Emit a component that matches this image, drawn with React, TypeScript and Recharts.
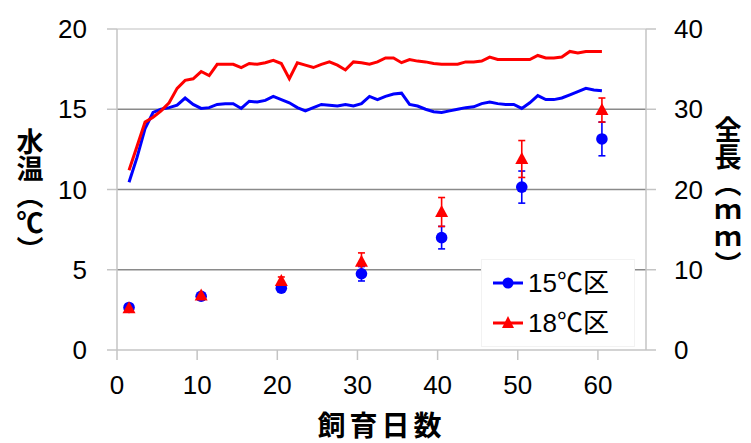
import { ComposedChart, Line, Scatter, XAxis, YAxis, ReferenceLine, ErrorBar, Legend } from 'recharts'

// 飼育日数 (daily water temperature)
const DAYS = [
  1.5, 2.5, 3.5, 4.5, 5.5, 6.5, 7.5, 8.5, 9.5, 10.5,
  11.5, 12.5, 13.5, 14.5, 15.5, 16.5, 17.5, 18.5, 19.5, 20.5,
  21.5, 22.5, 23.5, 24.5, 25.5, 26.5, 27.5, 28.5, 29.5, 30.5,
  31.5, 32.5, 33.5, 34.5, 35.5, 36.5, 37.5, 38.5, 39.5, 40.5,
  41.5, 42.5, 43.5, 44.5, 45.5, 46.5, 47.5, 48.5, 49.5, 50.5,
  51.5, 52.5, 53.5, 54.5, 55.5, 56.5, 57.5, 58.5, 59.5, 60.5,
]

const TEMP_15 = [
  10.45, 12.0, 13.8, 14.8, 15.0, 15.1, 15.25, 15.7, 15.3, 15.05,
  15.1, 15.3, 15.35, 15.35, 15.05, 15.5, 15.45, 15.55, 15.8, 15.6,
  15.4, 15.1, 14.9, 15.1, 15.3, 15.25, 15.2, 15.3, 15.2, 15.35,
  15.8, 15.6, 15.8, 15.95, 16.0, 15.3, 15.2, 15.0, 14.85, 14.8,
  14.9, 15.0, 15.1, 15.15, 15.35, 15.45, 15.35, 15.3, 15.3, 15.05,
  15.4, 15.85, 15.6, 15.6, 15.7, 15.9, 16.1, 16.3, 16.2, 16.15,
]

const TEMP_18 = [
  11.2, 12.7, 14.2, 14.5, 14.9, 15.4, 16.3, 16.8, 16.9, 17.35,
  17.1, 17.8, 17.8, 17.8, 17.6, 17.85, 17.8, 17.9, 18.05, 17.85,
  16.9, 17.9, 17.75, 17.6, 17.8, 17.95, 17.75, 17.45, 17.95, 17.9,
  17.8, 17.95, 18.2, 18.2, 17.9, 18.1, 18.0, 17.95, 17.85, 17.8,
  17.8, 17.8, 17.95, 17.95, 18.0, 18.25, 18.1, 18.1, 18.1, 18.1,
  18.1, 18.35, 18.2, 18.2, 18.25, 18.6, 18.5, 18.6, 18.6, 18.6,
]

// 全長 (mm) with error
const LEN_DAYS = [1.5, 10.5, 20.5, 30.5, 40.5, 50.5, 60.5]
const LEN_15 = [5.3, 6.7, 7.7, 9.5, 14.0, 20.3, 26.3]
const ERR_15 = [0.3, 0.3, 0.4, 0.9, 1.4, 2.0, 2.1]
const LEN_18 = [5.2, 6.8, 8.6, 11.0, 17.2, 23.8, 29.9]
const ERR_18 = [0.3, 0.3, 0.5, 1.1, 1.8, 2.3, 1.5]

const X_TICKS = [0, 10, 20, 30, 40, 50, 60]
const TEMP_TICKS = [0, 5, 10, 15, 20]
const LEN_TICKS = [0, 10, 20, 30, 40]
const GRID_LINES = [5, 10, 15]

const BLUE = '#0000ff'
const RED = '#ff0000'
const AXIS_GRAY = '#c4c4c4'
const NUM_FONT = '"Liberation Sans", Arial, "Noto Sans CJK JP", sans-serif'
const JP_FONT = '"Noto Sans CJK JP", "Liberation Sans", sans-serif'

const LEGEND_ITEMS = [
  { name: '15℃区', color: BLUE, shape: 'circle' },
  { name: '18℃区', color: RED, shape: 'triangle' },
]

const temp15 = DAYS.map((d, i) => ({ day: d, temp: TEMP_15[i] }))
const temp18 = DAYS.map((d, i) => ({ day: d, temp: TEMP_18[i] }))
const len15 = LEN_DAYS.map((d, i) => ({ day: d, len: LEN_15[i], err: ERR_15[i] }))
const len18 = LEN_DAYS.map((d, i) => ({ day: d, len: LEN_18[i], err: ERR_18[i] }))

const tickStyle = { fill: '#000', fontSize: 26, fontFamily: NUM_FONT }

const Dot = (p: any) => <circle cx={p.cx} cy={p.cy} r={5.8} fill={BLUE} />
const Tri = (p: any) => (
  <polygon
    points={`${p.cx},${p.cy - 7} ${p.cx + 6.5},${p.cy + 5} ${p.cx - 6.5},${p.cy + 5}`}
    fill={RED}
  />
)

const LegendBox = () => (
  <div
    style={{
      background: '#fff',
      border: '1px solid #f2f2f2',
      width: 154,
      boxSizing: 'border-box',
      padding: '3px 0 3px 11px',
    }}
  >
    {LEGEND_ITEMS.map((it) => (
      <div key={it.name} style={{ display: 'flex', alignItems: 'center', height: 40 }}>
        <svg width={30} height={16}>
          <line x1={0} x2={30} y1={8} y2={8} stroke={it.color} strokeWidth={3} />
          {it.shape === 'circle' ? (
            <circle cx={15} cy={8} r={5.5} fill={it.color} />
          ) : (
            <polygon points="15,1 21,13 9,13" fill={it.color} />
          )}
        </svg>
        <span style={{ marginLeft: 5, fontSize: 26, fontFamily: NUM_FONT, color: '#000', lineHeight: 1 }}>
          {it.name}
        </span>
      </div>
    ))}
  </div>
)

const leftLabel = (props: any) => {
  const vb = props.viewBox
  return (
    <text
      x={vb.x + 30}
      y={vb.y + vb.height / 2 + 6}
      textAnchor="middle"
      fontSize={27}
      fontWeight={700}
      fontFamily={JP_FONT}
      fill="#000"
      style={{ writingMode: 'vertical-rl' }}
    >
      水温（℃）
    </text>
  )
}

const rightLabel = (props: any) => {
  const vb = props.viewBox
  return (
    <text
      x={vb.x + 82}
      y={vb.y + vb.height / 2 + 8}
      textAnchor="middle"
      fontSize={27}
      fontWeight={700}
      fontFamily={JP_FONT}
      fill="#000"
      style={{ writingMode: 'vertical-rl' }}
    >
      全長（ｍｍ）
    </text>
  )
}

const bottomLabel = (props: any) => {
  const vb = props.viewBox
  return (
    <text
      x={vb.x + vb.width / 2}
      y={vb.y + 86}
      textAnchor="middle"
      fontSize={28}
      fontWeight={700}
      letterSpacing={4}
      fontFamily={JP_FONT}
      fill="#000"
    >
      飼育日数
    </text>
  )
}

export default function App() {
  return (
    <div style={{ width: 751, height: 443, background: '#fff' }}>
      <style>{'body{margin:0}'}</style>
      <ComposedChart width={751} height={443} margin={{ top: 29, right: 0, bottom: 0, left: 0 }}>
        <XAxis
          dataKey="day"
          type="number"
          domain={[0, 66]}
          ticks={X_TICKS}
          allowDataOverflow
          height={93}
          stroke={AXIS_GRAY}
          strokeWidth={1.5}
          tickSize={10}
          tickMargin={16}
          tick={tickStyle}
          label={{ content: bottomLabel }}
        />
        <YAxis
          yAxisId="left"
          domain={[0, 20]}
          ticks={TEMP_TICKS}
          width={117}
          stroke={AXIS_GRAY}
          strokeWidth={1.5}
          tickSize={10}
          tickMargin={20}
          tick={tickStyle}
          label={{ content: leftLabel }}
        />
        <YAxis
          yAxisId="right"
          orientation="right"
          domain={[0, 40]}
          ticks={LEN_TICKS}
          width={105}
          stroke={AXIS_GRAY}
          strokeWidth={1.5}
          tickSize={10}
          tickMargin={18}
          tick={tickStyle}
          label={{ content: rightLabel }}
        />
        <ReferenceLine yAxisId="left" y={20} stroke="#d4d4d4" strokeWidth={1.5} />
        {GRID_LINES.map((v) => (
          <ReferenceLine key={v} yAxisId="left" y={v} stroke="#8a8a8a" strokeWidth={1.5} />
        ))}
        <Line
          yAxisId="left"
          data={temp15}
          dataKey="temp"
          stroke={BLUE}
          strokeWidth={3}
          dot={false}
          isAnimationActive={false}
        />
        <Line
          yAxisId="left"
          data={temp18}
          dataKey="temp"
          stroke={RED}
          strokeWidth={3}
          dot={false}
          isAnimationActive={false}
        />
        <Scatter yAxisId="right" data={len15} dataKey="len" shape={Dot} isAnimationActive={false}>
          <ErrorBar dataKey="err" direction="y" width={3.5} stroke={BLUE} strokeWidth={1.6} />
        </Scatter>
        <Scatter yAxisId="right" data={len18} dataKey="len" shape={Tri} isAnimationActive={false}>
          <ErrorBar dataKey="err" direction="y" width={3.5} stroke={RED} strokeWidth={1.6} />
        </Scatter>
        <Legend
          layout="vertical"
          align="center"
          verticalAlign="middle"
          content={LegendBox}
          wrapperStyle={{ left: 481, top: 259, width: 154 }}
        />
      </ComposedChart>
    </div>
  )
}
